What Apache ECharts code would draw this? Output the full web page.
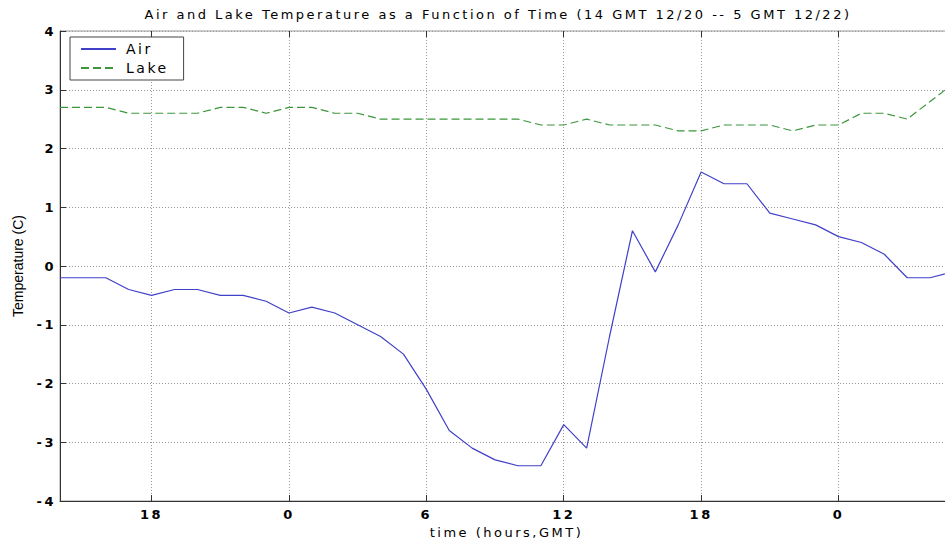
<!DOCTYPE html>
<html>
<head>
<meta charset="utf-8">
<script src="https://cdn.jsdelivr.net/npm/echarts@6/dist/echarts.min.js"></script>
<style>
html,body{margin:0;padding:0;background:#fff;overflow:hidden;}
#chart{width:945px;height:542px;overflow:hidden;}
#chart svg text[style*="DejaVu"]{letter-spacing:2.5px;}
</style>
</head>
<body>
<div id="chart"></div>
<script>
// hours since 0 GMT 12/20
const hours = [14,15,16,17,18,19,20,21,22,23,24,25,26,27,28,29,30,31,32,33,34,35,36,37,38,39,40,41,42,43,44,45,46,47,48,49,50,51,52,53];
const airTemp = [-0.2,-0.2,-0.2,-0.4,-0.5,-0.4,-0.4,-0.5,-0.5,-0.6,-0.8,-0.7,-0.8,-1.0,-1.2,-1.5,-2.1,-2.8,-3.1,-3.3,-3.4,-3.4,-2.7,-3.1,-1.2,0.6,-0.1,0.7,1.6,1.4,1.4,0.9,0.8,0.7,0.5,0.4,0.2,-0.2,-0.2,-0.1];
const lakeTemp = [2.7,2.7,2.7,2.6,2.6,2.6,2.6,2.7,2.7,2.6,2.7,2.7,2.6,2.6,2.5,2.5,2.5,2.5,2.5,2.5,2.5,2.4,2.4,2.5,2.4,2.4,2.4,2.3,2.3,2.4,2.4,2.4,2.3,2.4,2.4,2.6,2.6,2.5,2.8,3.1];
const xTickValues = [18,24,30,36,42,48];
const xTickLabels = ['18','0','6','12','18','0'];
const yTickLabels = ['-4','-3','-2','-1','0','1','2','3','4'];

const titleText = 'Air and Lake Temperature as a Function of Time (14 GMT 12/20 -- 5 GMT 12/22)';

const chart = echarts.init(document.getElementById('chart'), null, {renderer:'svg'});
const axisColor = '#333';
const gridLine = {show:true, lineStyle:{color:'#999', type:[1,2], width:1}};

chart.setOption({
  backgroundColor:'#fff',
  animation:false,
  graphic:[{
    type:'text', x:498, y:14,
    style:{text:titleText, fontFamily:'DejaVu Sans', fontSize:13, fill:'#000', align:'center', verticalAlign:'middle'}
  }],
  legend:{
    orient:'vertical', left:70, top:37,
    itemWidth:35, itemHeight:10, itemGap:5,
    padding:[5,25,5,10],
    borderColor:'#444', borderWidth:1, backgroundColor:'#fff',
    itemStyle:{opacity:0},
    textStyle:{fontFamily:'DejaVu Sans', fontSize:14, lineHeight:10, color:'#000', padding:[0,0,0,5]},
    data:['Air','Lake']
  },
  grid:{left:60, width:893, top:31, bottom:41, show:true, borderColor:'#999', borderWidth:1,
        containLabel:false, outerBoundsMode:'none'},
  xAxis:[{
    type:'value', min:14, max:53,
    name:'time (hours,GMT)', nameLocation:'middle', nameGap:22,
    nameTextStyle:{fontFamily:'DejaVu Sans', fontSize:13, color:'#000'},
    axisLine:{show:true, onZero:false, lineStyle:{color:axisColor, width:1}},
    axisTick:{show:true, inside:true, length:6, customValues:xTickValues, lineStyle:{color:axisColor}},
    axisLabel:{customValues:xTickValues, margin:7, fontFamily:'DejaVu Sans', fontWeight:'bold', fontSize:13, color:'#000',
      formatter:function(v){ const i = xTickValues.indexOf(v); return i>=0 ? xTickLabels[i] : ''; }},
    splitLine:gridLine
  },{
    type:'value', min:14, max:53, position:'top',
    axisLine:{show:false, onZero:false},
    axisTick:{show:true, inside:true, length:6, customValues:xTickValues, lineStyle:{color:axisColor}},
    axisLabel:{show:false},
    splitLine:{show:false}
  }],
  yAxis:{
    type:'value', min:-4, max:4, interval:1,
    name:'Temperature (C)', nameLocation:'middle', nameGap:35,
    nameTextStyle:{fontFamily:'Liberation Sans', fontSize:14, color:'#000'},
    axisLine:{show:true, onZero:false, lineStyle:{color:axisColor, width:1}},
    axisTick:{show:true, inside:true, length:6, lineStyle:{color:axisColor}},
    axisLabel:{margin:4, fontFamily:'DejaVu Sans', fontWeight:'bold', fontSize:13, color:'#000',
      formatter:function(v){ return yTickLabels[Math.round(v)+4]; }},
    splitLine:gridLine
  },
  series:[{
    name:'Air', type:'line', xAxisIndex:0,
    data:hours.map((h,i)=>[h, airTemp[i]]),
    symbol:'none', showSymbol:false,
    lineStyle:{color:'#4040c8', width:1.2},
    itemStyle:{color:'#4040c8'}
  },{
    name:'Lake', type:'line', xAxisIndex:0,
    data:hours.map((h,i)=>[h, lakeTemp[i]]),
    symbol:'none', showSymbol:false,
    lineStyle:{color:'#3c963c', width:1.2, type:[8,4]},
    itemStyle:{color:'#3c963c'}
  }]
});
</script>
</body>
</html>
